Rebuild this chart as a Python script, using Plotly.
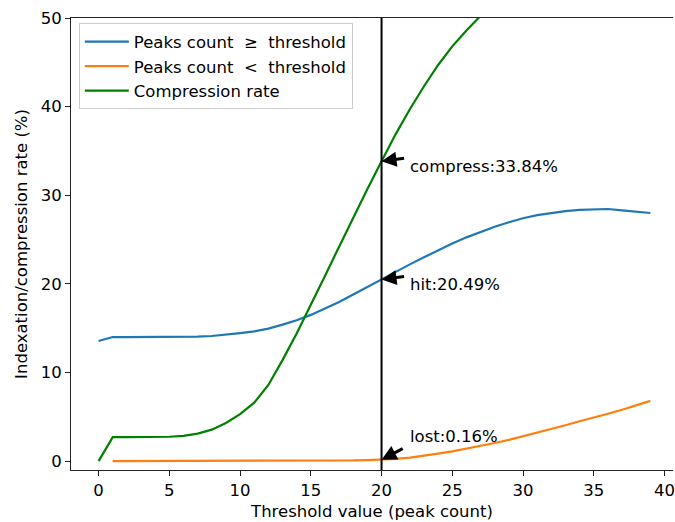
import plotly.graph_objects as go

# ---- data ----
x_hit = list(range(0, 40))
hit = [13.55, 14.0, 14.0, 14.0, 14.0, 14.0, 14.02, 14.05, 14.12, 14.25,
       14.45, 14.65, 14.95, 15.4, 15.9, 16.5, 17.2, 17.95, 18.8, 19.65,
       20.49, 21.4, 22.2, 23.0, 23.8, 24.55, 25.25, 25.85, 26.45, 26.95,
       27.4, 27.75, 28.0, 28.2, 28.35, 28.42, 28.45, 28.3, 28.15, 28.0]

x_lost = list(range(1, 40))
lost = [0.0, 0.0, 0.0, 0.0, 0.0, 0.0, 0.0, 0.0, 0.01, 0.01,
        0.01, 0.02, 0.02, 0.02, 0.03, 0.04, 0.06, 0.08, 0.12, 0.16,
        0.25, 0.4, 0.6, 0.85, 1.1, 1.4, 1.7, 2.05, 2.4, 2.8,
        3.2, 3.6, 4.05, 4.5, 4.9, 5.35, 5.8, 6.3, 6.8]

x_comp = list(range(0, 40))
comp = [0.0, 2.7, 2.7, 2.7, 2.72, 2.75, 2.85, 3.1, 3.55, 4.3,
        5.3, 6.6, 8.6, 11.4, 14.4, 17.6, 20.9, 24.2, 27.5, 30.7,
        33.84, 36.9, 39.7, 42.3, 44.7, 46.8, 48.6, 50.3, 51.9, 53.4,
        54.8, 56.1, 57.3, 58.4, 59.4, 60.3, 61.1, 61.8, 62.4, 63.0]

threshold = 20
labels = ["Peaks count\u00a0\u00a0≥\u00a0\u00a0threshold",
          "Peaks count\u00a0\u00a0<\u00a0\u00a0threshold",
          "Compression rate"]
colors = ["#1f77b4", "#ff7f0e", "#008000"]

ann_names = ["compress", "hit", "lost"]
ann_vals = [33.84, 20.49, 0.16]
ann_tail = [(21.7, 34.2), (21.7, 20.85), (21.6, 1.5)]
ann_text_pos = [(21.9, 33.3), (21.9, 19.95), (21.9, 2.8)]

FONT = "DejaVu Sans"
FS = 16.5

fig = go.Figure()
for xs, ys, name, col, g in [(x_hit, hit, labels[0], colors[0], "a"),
                             (x_lost, lost, labels[1], colors[1], "b"),
                             (x_comp, comp, labels[2], colors[2], "c")]:
    fig.add_trace(go.Scatter(x=xs, y=ys, mode="lines", name=name,
                             line=dict(color=col, width=2.2), legendgroup=g))

fig.add_shape(type="line", x0=threshold, x1=threshold, xref="x",
              y0=0, y1=1, yref="paper", line=dict(color="black", width=2))

for name, val, (tx, ty), (px, py) in zip(ann_names, ann_vals, ann_tail, ann_text_pos):
    fig.add_annotation(x=threshold, y=val, ax=tx, ay=ty, axref="x", ayref="y",
                       xref="x", yref="y", text="", showarrow=True,
                       arrowhead=2, arrowsize=1.0, arrowwidth=3,
                       arrowcolor="black", standoff=0, startstandoff=0)
    fig.add_annotation(x=px, y=py, xref="x", yref="y",
                       text=f"{name}:{val:.2f}%", showarrow=False,
                       xanchor="left", yanchor="middle",
                       font=dict(family=FONT, size=FS, color="black"))

axis_common = dict(showgrid=False, zeroline=False, showline=True,
                   linecolor="#222222", linewidth=1.1, ticks="outside",
                   ticklen=5, tickwidth=1.1, tickcolor="#222222",
                   ticklabeloverflow="allow",
                   tickfont=dict(family=FONT, size=FS, color="black"))

fig.update_xaxes(range=[-1.95, 40.6], tickmode="array",
                 tickvals=[0, 5, 10, 15, 20, 25, 30, 35, 40], mirror=True,
                 title=dict(text="Threshold value (peak count)",
                            font=dict(family=FONT, size=FS, color="black"),
                            standoff=6),
                 **axis_common)
fig.update_yaxes(range=[-1.0, 50], tickmode="array",
                 tickvals=[0, 10, 20, 30, 40, 50], mirror=False,
                 title=dict(text="Indexation/compression rate (%)",
                            font=dict(family=FONT, size=FS, color="black"),
                            standoff=8),
                 **axis_common)

fig.update_layout(
    width=675, height=522,
    margin=dict(l=71, r=0, t=18, b=52),
    paper_bgcolor="white", plot_bgcolor="white",
    font=dict(family=FONT, size=FS, color="black"),
    showlegend=True,
    legend=dict(x=0.013, y=0.988, xanchor="left", yanchor="top",
                bgcolor="rgba(255,255,255,0.8)", bordercolor="#cccccc",
                borderwidth=1, tracegroupgap=0, itemwidth=44,
                font=dict(family=FONT, size=FS, color="black")),
)

fig.write_html("out.html")
